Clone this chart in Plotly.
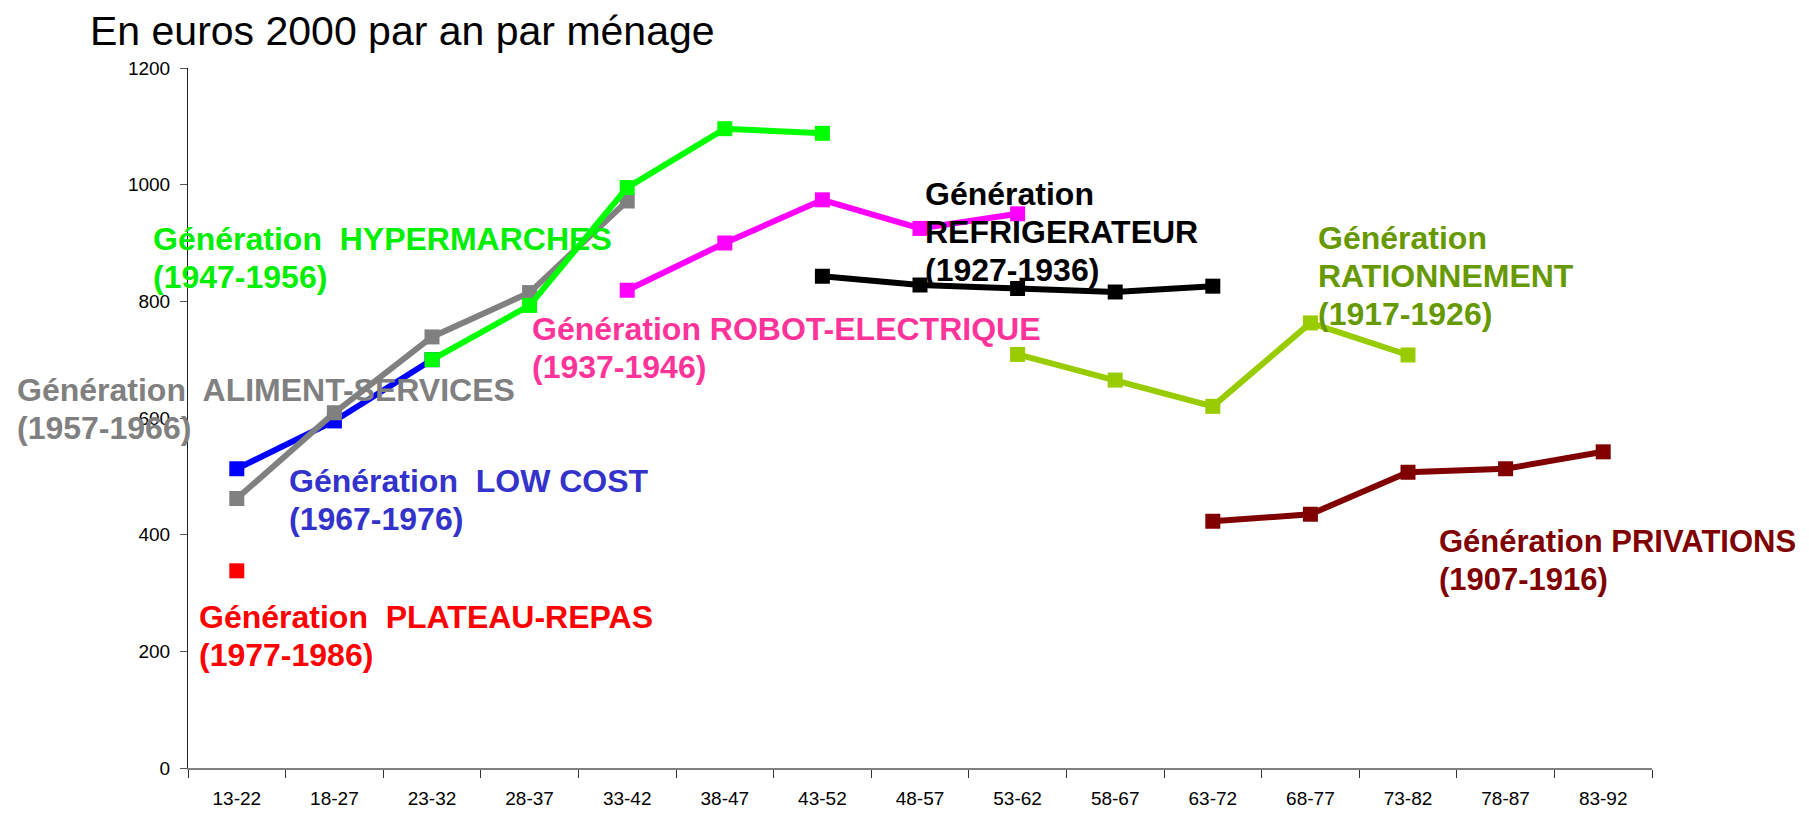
import plotly.graph_objects as go

# ---------------- data ----------------
categories = ["13-22", "18-27", "23-32", "28-37", "33-42", "38-47", "43-52", "48-57",
              "53-62", "58-67", "63-72", "68-77", "73-82", "78-87", "83-92"]

privations = [None, None, None, None, None, None, None, None, None, None,
              423, 435, 507, 513, 542]
rationnement = [None, None, None, None, None, None, None, None,
                709, 665, 620, 763, 708, None, None]
refrigerateur = [None, None, None, None, None, None,
                 843, 828, 822, 816, 826, None, None, None, None]
robot_electrique = [None, None, None, None,
                    819, 900, 974, 925, 950, None, None, None, None, None, None]
low_cost = [513, 595, 700, None, None, None, None, None, None, None, None, None, None, None, None]
aliment_services = [462, 609, 739, 815, 972, None, None, None, None, None, None, None, None, None, None]
hypermarches = [None, None, 700, 793, 995, 1096, 1088, None, None, None, None, None, None, None, None]
plateau_repas = [338, None, None, None, None, None, None, None, None, None, None, None, None, None, None]

series = [
    ("Génération PRIVATIONS (1907-1916)", privations, "#800000"),
    ("Génération RATIONNEMENT (1917-1926)", rationnement, "#99CC00"),
    ("Génération REFRIGERATEUR (1927-1936)", refrigerateur, "#000000"),
    ("Génération ROBOT-ELECTRIQUE (1937-1946)", robot_electrique, "#FF00FF"),
    ("Génération LOW COST (1967-1976)", low_cost, "#0000FF"),
    ("Génération ALIMENT-SERVICES (1957-1966)", aliment_services, "#808080"),
    ("Génération HYPERMARCHES (1947-1956)", hypermarches, "#00FF00"),
    ("Génération PLATEAU-REPAS (1977-1986)", plateau_repas, "#FF0000"),
]

title_text = "En euros 2000 par an par ménage"

# label lines, colour, left x (page px), first baseline (page px), font size
labels = [
    (["Génération  HYPERMARCHES", "(1947-1956)"], "#00EE00", 152, 250, 32),
    (["Génération  ALIMENT-SERVICES", "(1957-1966)"], "#808080", 16, 401, 32),
    (["Génération  LOW COST", "(1967-1976)"], "#3333CC", 288, 492, 32),
    (["Génération  PLATEAU-REPAS", "(1977-1986)"], "#FF0000", 198, 628, 32),
    (["Génération ROBOT-ELECTRIQUE", "(1937-1946)"], "#FF3399", 531, 340, 32),
    (["Génération", "REFRIGERATEUR", "(1927-1936)"], "#000000", 924, 205, 32),
    (["Génération", "RATIONNEMENT", "(1917-1926)"], "#669900", 1317, 249, 32),
    (["Génération PRIVATIONS", "(1907-1916)"], "#800000", 1438, 552, 31),
]

# ---------------- layout geometry ----------------
PAGE_PAD = 8                      # default body margin of the html page
W, H = 1809 - PAGE_PAD, 814 - PAGE_PAD
ML, MR, MT, MB = 180, 157, 60, 46
PW = W - ML - MR
PH = H - MT - MB
FONT = "Arial, Liberation Sans, sans-serif"
LINE_STEP = 37.8


def px_x(x):
    return (x - PAGE_PAD - ML) / PW


def px_y(y):
    return (H - MB - (y - PAGE_PAD)) / PH


fig = go.Figure()
for name, vals, col in series:
    fig.add_trace(go.Scatter(
        x=categories, y=vals, mode="lines+markers", name=name,
        line=dict(color=col, width=6),
        marker=dict(symbol="square", size=15, color=col),
        connectgaps=False, showlegend=False,
    ))

annotations = []
annotations.append(dict(
    text=title_text, xref="paper", yref="paper",
    x=px_x(88), y=px_y(45.7 - 0.3465 * 41), xanchor="left", yanchor="middle",
    showarrow=False, font=dict(family=FONT, size=41, color="#000000"),
))
for lines, col, lx, base, fs in labels:
    for i, ln in enumerate(lines):
        b = base + i * LINE_STEP
        annotations.append(dict(
            text="<b>" + ln + "</b>", xref="paper", yref="paper",
            x=px_x(lx - 1), y=px_y(b - 0.3465 * fs),
            xanchor="left", yanchor="middle", showarrow=False,
            font=dict(family=FONT, size=fs, color=col),
        ))

fig.update_layout(
    width=W, height=H,
    margin=dict(l=ML, r=MR, t=MT, b=MB, autoexpand=False),
    paper_bgcolor="white", plot_bgcolor="white",
    font=dict(family=FONT, color="#000000"),
    annotations=annotations,
    showlegend=False,
)
fig.update_xaxes(
    type="category", categoryorder="array", categoryarray=categories,
    range=[-0.5, len(categories) - 0.5],
    tickson="boundaries", ticks="outside", ticklen=8, tickwidth=1, tickcolor="#333333",
    showline=True, linecolor="#808080", linewidth=2,
    showgrid=False, zeroline=False, automargin=False,
    tickfont=dict(family=FONT, size=19, color="#000000"),
    ticklabelstandoff=12,
)
fig.update_yaxes(
    range=[0, 1200], dtick=200, tick0=0,
    ticks="outside", ticklen=7, tickwidth=1, tickcolor="#555555",
    showline=True, linecolor="#222222", linewidth=1,
    showgrid=False, zeroline=False, automargin=False,
    tickfont=dict(family=FONT, size=19, color="#000000"),
    ticklabelstandoff=6,
)

fig.write_html("out.html")
